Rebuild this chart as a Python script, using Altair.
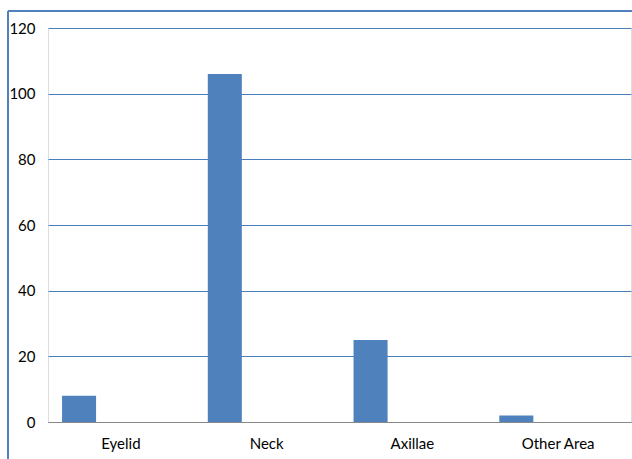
import altair as alt
import pandas as pd

# Lesion sites and counts
sites = ["Eyelid", "Neck", "Axillae", "Other Area"]
counts = [8, 106, 25, 2]
series = ["Cases"] * len(sites)

y_ticks = [0, 20, 40, 60, 80, 100, 120]

df = pd.DataFrame({"site": sites, "count": counts, "series": series})

FONT = "Lato"
BLUE = "#4F81BD"
PLOT_W = 583
PLOT_H = 394

bars = alt.Chart(df).mark_bar(color=BLUE).encode(
    x=alt.X(
        "site:N",
        sort=sites,
        scale=alt.Scale(paddingInner=0, paddingOuter=0),
        axis=alt.Axis(
            title=None,
            labelAngle=0,
            ticks=False,
            domainColor="#888888",
            domainWidth=1,
            labelFont=FONT,
            labelFontSize=15,
            labelColor="#000000",
            labelPadding=14,
            grid=False,
        ),
    ),
    xOffset=alt.XOffset(
        "series:N",
        scale=alt.Scale(domain=["Cases", "Blank"], paddingInner=0.593, paddingOuter=0.168),
    ),
    y=alt.Y(
        "count:Q",
        scale=alt.Scale(domain=[0, 120], nice=False),
        axis=alt.Axis(
            title=None,
            values=y_ticks,
            grid=True,
            gridColor="#4A7EBB",
            gridWidth=1,
            domain=False,
            ticks=False,
            labelFont=FONT,
            labelFontSize=15,
            labelColor="#000000",
            labelPadding=13,
        ),
    ),
)

# Chart-area frame (top and left edges)
frame_df = pd.DataFrame({"k": [0]})
top_edge = alt.Chart(frame_df).mark_rule(color=BLUE, strokeWidth=2).encode(
    x=alt.value(-40), x2=alt.value(PLOT_W + 20), y=alt.value(-17)
)
left_edge = alt.Chart(frame_df).mark_rule(color=BLUE, strokeWidth=2).encode(
    x=alt.value(-40), y=alt.value(-17), y2=alt.value(PLOT_H + 60)
)

chart = (
    alt.layer(bars, top_edge, left_edge)
    .properties(
        width=PLOT_W,
        height=PLOT_H,
        autosize=alt.AutoSizeParams(type="none"),
        padding={"left": 48, "top": 28, "right": 1, "bottom": 37},
    )
    .configure_view(stroke=None)
    .configure(background="white")
)

chart.save("out.html", embed_options={"renderer": "svg", "actions": False})
